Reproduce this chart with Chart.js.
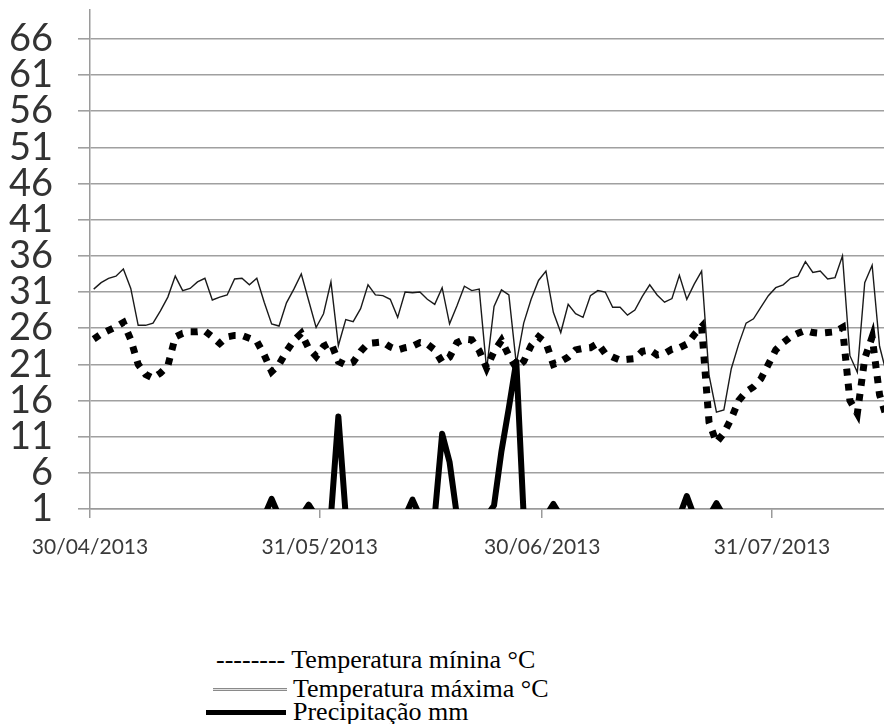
<!DOCTYPE html>
<html><head><meta charset="utf-8">
<script src="https://cdn.jsdelivr.net/npm/chart.js@4.4.1/dist/chart.umd.min.js"></script>
<style>
html,body{margin:0;padding:0;background:#fff;width:884px;height:724px;overflow:hidden;}
#wrap{position:relative;width:884px;height:724px;}
#c{position:absolute;left:0;top:0;}
.leg{position:absolute;font-family:"Liberation Serif","Times New Roman",serif;font-size:26px;line-height:26px;color:#000;white-space:nowrap;}
.sym{position:absolute;}
</style></head><body>
<div id="wrap">
<canvas id="c" width="884" height="600"></canvas>
<div class="leg" style="left:216px;top:647px;">-------- Temperatura mínina °C</div>
<div class="sym" style="left:213px;top:688px;width:74px;height:1px;background:#e0e0e0;border-top:1px solid #8a8a8a;border-bottom:1px solid #8a8a8a;"></div>
<div class="leg" style="left:293px;top:676px;">Temperatura máxima °C</div>
<div class="sym" style="left:206px;top:710px;width:80px;height:5px;background:#000;"></div>
<div class="leg" style="left:293px;top:699px;">Precipitação mm</div>
</div>
<script>
// daily series, index 0 = 30/04/2013
const maxTemp = [31.4,32.3,32.9,33.2,34.2,31.5,26.4,26.4,26.7,28.4,30.3,33.2,31.2,31.5,32.4,32.9,29.9,30.3,30.6,32.8,
32.9,32.0,32.9,29.6,26.6,26.3,29.5,31.4,33.5,29.8,26.1,28.0,32.4,23.6,27.2,26.9,28.7,32.0,30.6,30.5,
30.0,27.5,31.0,30.9,31.0,30.0,29.3,31.6,26.6,29.1,31.8,31.2,31.4,20.3,29.0,31.3,30.6,21.1,26.7,30.0,
32.6,33.9,28.2,25.4,29.3,28.0,27.5,30.5,31.2,31.0,28.9,28.9,27.8,28.5,30.4,32.0,30.6,29.6,30.1,33.3,
30.0,32.1,33.9,19.5,14.4,14.7,20.4,23.8,26.7,27.3,28.9,30.5,31.6,32.0,32.9,33.2,35.2,33.7,33.9,32.8,
33.0,36.0,22.2,19.9,32.3,34.7,23.5,19.5];
const minTemp = [24.5,25.2,25.7,26.2,26.8,24.4,21.0,19.6,19.1,19.8,20.8,24.8,25.3,25.5,25.5,25.6,24.8,23.9,24.8,25.0,
25.0,24.6,24.2,22.3,20.0,21.0,22.8,24.3,25.3,23.2,22.1,23.5,24.0,21.4,20.9,21.3,22.8,23.9,24.0,24.1,
23.4,23.0,23.3,23.5,24.0,23.8,23.0,21.3,22.0,24.0,24.5,24.4,22.9,20.5,22.8,24.3,22.2,20.5,21.4,23.6,
24.8,24.0,21.0,21.4,22.0,23.0,23.2,23.3,23.9,22.5,22.0,21.6,21.7,21.8,22.8,23.0,22.3,22.5,23.1,23.3,
23.8,25.1,26.2,13.0,10.2,11.5,13.5,16.0,17.2,17.9,19.0,21.0,23.0,24.0,24.8,25.3,25.7,25.4,25.3,25.4,
25.5,26.1,16.0,14.2,21.8,24.8,16.8,13.5];
const precip = [0,0,0,0,0,0,0,0,0,0,0,0,0,0,0,0,0,0,0,0,
0,0,0,0,2.4,0,0,0,0,1.6,0,0,0,13.8,0,0,0,0,0,0,
0,0,0,2.3,0,0,0,11.4,7.5,0,0,0,0,0,1.5,9.0,15.0,21.4,0,0,
0,0,1.7,0,0,0,0,0,0,0,0,0,0,0,0,0,0,0,0,0,
2.8,0,0,0,1.8,0,0,0,0,0,0,0,0,0,0,0,0,0,0,0,
0,0,0,0,0,0,0,0];
const xTickDays = [0, 31, 61, 92];
const xTickLabels = ["30/04/2013", "31/05/2013", "30/06/2013", "31/07/2013"];
const yTickValues = [1, 6, 11, 16, 21, 26, 31, 36, 41, 46, 51, 56, 61, 66];

const pts = arr => arr.map((v, i) => ({x: i + 0.5, y: v}));

new Chart(document.getElementById('c'), {
  type: 'line',
  data: {
    datasets: [
      {label: 'Precipitação mm', data: pts(precip), borderColor: '#000', borderWidth: 6,
       borderJoinStyle: 'round', borderCapStyle: 'round', pointRadius: 0, tension: 0, clip: 0, fill: false},
      {label: 'Temperatura mínina °C', data: pts(minTemp), borderColor: '#000', borderWidth: 7,
       borderDash: [7, 8], borderCapStyle: 'butt', borderJoinStyle: 'miter', pointRadius: 0, tension: 0, fill: false},
      {label: 'Temperatura máxima °C', data: pts(maxTemp), borderColor: '#1a1a1a', borderWidth: 1.4,
       pointRadius: 0, tension: 0, fill: false}
    ]
  },
  options: {
    responsive: false,
    animation: false,
    devicePixelRatio: 1,
    layout: {padding: {top: 10, right: 0, left: 0, bottom: 0}},
    plugins: {legend: {display: false}, tooltip: {enabled: false}},
    scales: {
      x: {
        type: 'linear', min: 0, max: 107.1,
        afterBuildTicks: s => { s.ticks = xTickDays.map(v => ({value: v})); },
        afterFit: s => { s.height = 91; s.paddingLeft = 0; s.paddingRight = 0; },
        ticks: {
          autoSkip: false, maxRotation: 0, padding: 19,
          color: '#3a3a3a', font: {family: 'Lato, "Open Sans", sans-serif', size: 21, lineHeight: 1},
          callback: (v, i) => xTickLabels[i]
        },
        grid: {drawOnChartArea: false, drawTicks: true, tickLength: 9, color: '#9a9a9a', lineWidth: 1.5},
        border: {display: true, color: '#9a9a9a', width: 1.5}
      },
      y: {
        type: 'linear', min: 1, max: 70,
        afterBuildTicks: s => { s.ticks = yTickValues.map(v => ({value: v})); },
        afterFit: s => { s.width = 90; s.paddingTop = 0; s.paddingBottom = 0; },
        ticks: {
          autoSkip: false, padding: 25, color: '#333',
          font: {family: 'Lato, "Open Sans", sans-serif', size: 38, lineHeight: 1}
        },
        grid: {drawTicks: true, tickLength: 12, color: '#a0a0a0', lineWidth: 1.6},
        border: {display: true, color: '#9a9a9a', width: 1.5}
      }
    }
  }
});
</script>
</body></html>
